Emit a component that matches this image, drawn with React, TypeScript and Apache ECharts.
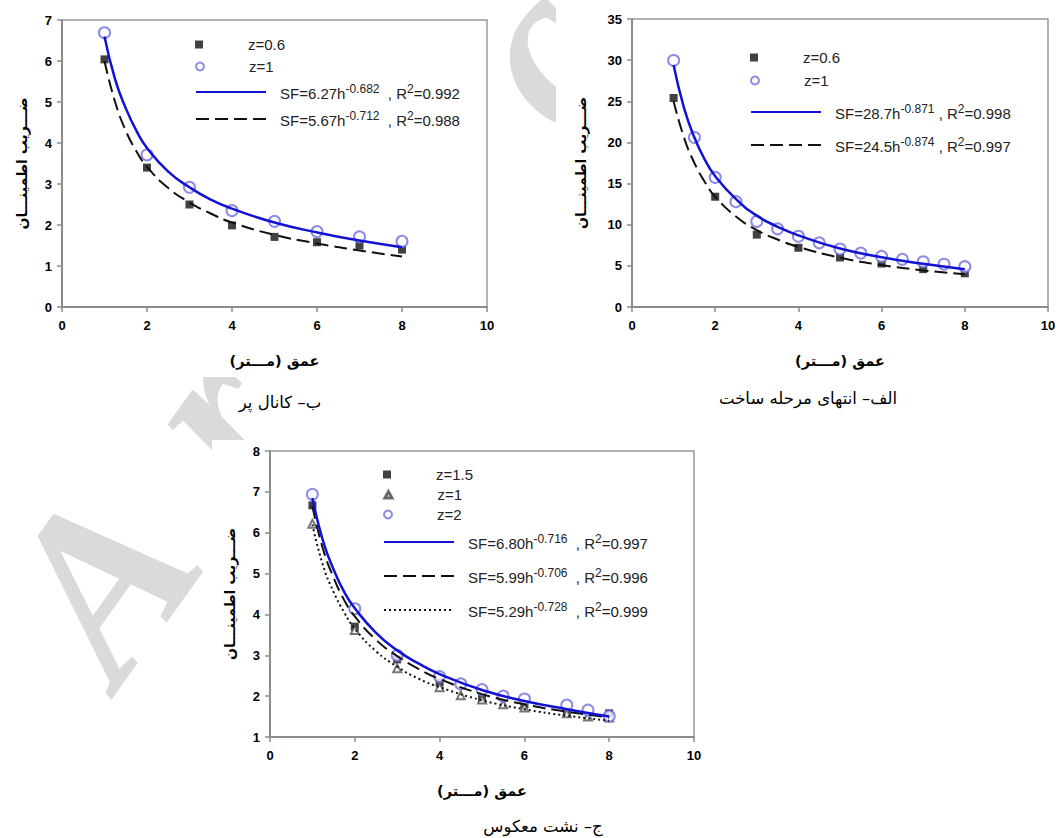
import React, { useEffect, useRef } from "react";
import * as echarts from "echarts";

// ---------- data ----------
// chart "ب– کانال پر"
const bDepth = [1, 2, 3, 4, 5, 6, 7, 8];
const bZ06 = [6.04, 3.4, 2.5, 1.99, 1.71, 1.58, 1.5, 1.4];
const bZ1 = [6.69, 3.71, 2.92, 2.35, 2.09, 1.84, 1.71, 1.6];
const fitDepth = [1, 1.25, 1.5, 1.75, 2, 2.5, 3, 3.5, 4, 5, 6, 7, 8];
const bFitZ1 = [6.6, 5.55, 4.85, 4.3, 3.88, 3.3, 2.92, 2.62, 2.4, 2.06, 1.82, 1.62, 1.46];
const bFitZ06 = [6.0, 5.0, 4.3, 3.8, 3.42, 2.9, 2.55, 2.28, 2.06, 1.76, 1.55, 1.38, 1.23];

// chart "الف– انتهای مرحله ساخت"
const aDepthZ06 = [1, 2, 3, 4, 5, 6, 7, 8];
const aZ06 = [25.4, 13.4, 8.8, 7.2, 6.02, 5.28, 4.6, 4.1];
const aDepthZ1 = [1, 1.5, 2, 2.5, 3, 3.5, 4, 4.5, 5, 5.5, 6, 6.5, 7, 7.5, 8];
const aZ1 = [29.96, 20.6, 15.75, 12.8, 10.4, 9.5, 8.6, 7.8, 7.05, 6.55, 6.15, 5.8, 5.5, 5.2, 4.9];
const aFitZ1 = [29.4, 24.2, 20.6, 17.9, 15.9, 13.1, 11.1, 9.75, 8.7, 7.1, 6.05, 5.25, 4.6];
const aFitZ06 = [25.0, 20.6, 17.5, 15.2, 13.4, 11.0, 9.35, 8.2, 7.3, 6.0, 5.1, 4.45, 3.98];

// chart "ج– نشت معکوس"
const cDepthZ15 = [1, 2, 3, 4, 5, 6, 7, 8];
const cZ15 = [6.67, 3.7, 2.9, 2.33, 1.95, 1.8, 1.62, 1.58];
const cDepthZ1 = [1, 2, 3, 4, 4.5, 5, 5.5, 6, 7, 7.5, 8];
const cZ1 = [6.22, 3.62, 2.68, 2.22, 2.02, 1.92, 1.8, 1.72, 1.58, 1.5, 1.48];
const cDepthZ2 = [1, 2, 3, 4, 4.5, 5, 5.5, 6, 7, 7.5, 8];
const cZ2 = [6.94, 4.14, 3.0, 2.48, 2.3, 2.16, 2.0, 1.93, 1.78, 1.66, 1.51];
const cFitZ2 = [6.85, 5.8, 5.1, 4.55, 4.15, 3.55, 3.12, 2.8, 2.54, 2.15, 1.88, 1.68, 1.5];
const cFitZ15 = [6.65, 5.6, 4.9, 4.35, 3.95, 3.38, 2.98, 2.67, 2.42, 2.05, 1.8, 1.62, 1.48];
const cFitZ1 = [6.2, 5.2, 4.55, 4.05, 3.65, 3.1, 2.72, 2.43, 2.22, 1.9, 1.68, 1.52, 1.4];

// texts
const xTitle = "عمق (مـــتر)";
const yTitle = "ضـــریب اطمینـــان";
const captions = ["ب– کانال پر", "الف– انتهای مرحله ساخت", "ج– نشت معکوس"];
const watermarkLetters = ["A", "r", "c"];

// legend labels: [main, exponent, middle, r2sup, tail]
const legendLabels: Record<string, any> = {
  b_z06: "z=0.6",
  b_z1: "z=1",
  b_f1: ["SF=6.27h", "-0.682", "  , R", "2", "=0.992"],
  b_f06: ["SF=5.67h", "-0.712", "  , R", "2", "=0.988"],
  a_z06: "z=0.6",
  a_z1: "z=1",
  a_f1: ["SF=28.7h", "-0.871", " , R", "2", "=0.998"],
  a_f06: ["SF=24.5h", "-0.874", " , R", "2", "=0.997"],
  c_z15: "z=1.5",
  c_z1: "z=1",
  c_z2: "z=2",
  c_f2: ["SF=6.80h", "-0.716", "  , R", "2", "=0.997"],
  c_f15: ["SF=5.99h", "-0.706", "  , R", "2", "=0.996"],
  c_f1: ["SF=5.29h", "-0.728", "  , R", "2", "=0.999"],
};
const legendRows = [
  ["b_z06", "b_z1", "b_f1", "b_f06"],
  ["a_z06", "a_z1", "a_f1", "a_f06"],
  ["c_z15", "c_z1", "c_z2", "c_f2", "c_f15", "c_f1"],
];

const BLUE = "#1212d4";
const CIRCLE = "#6f6fe0";
const BLACK = "#111111";
const TRI = "#555555";
const AXIS = "#8c8c8c";

const SQUARE_ICON = "path://M0,0L10,0L10,10L0,10Z";
const TRI_ICON = "path://M5,0L10,9L0,9Z M5,2.8L1.9,8L8.1,8Z";

function pairs(xs: number[], ys: number[]) {
  return xs.map((x, i) => [x, ys[i]]);
}

export default function App() {
  const ref = useRef<HTMLDivElement>(null);

  useEffect(() => {
    if (!ref.current) return;
    const chart = echarts.init(ref.current, undefined, { renderer: "svg" });

    const grids = [
      { left: 62, top: 20, width: 425, height: 287 },
      { left: 632, top: 19, width: 416, height: 288 },
      { left: 270, top: 451, width: 424, height: 286 },
    ];
    const yRanges = [
      { min: 0, max: 7, interval: 1 },
      { min: 0, max: 35, interval: 5 },
      { min: 1, max: 8, interval: 1 },
    ];

    const xAxes = grids.map((_, i) => ({
      type: "value",
      gridIndex: i,
      min: 0,
      max: 10,
      interval: 2,
      axisLine: { show: true, onZero: false, lineStyle: { color: AXIS, width: 2 } },
      axisTick: { show: true, length: 5, lineStyle: { color: AXIS, width: 1.5 } },
      axisLabel: {
        color: "#000",
        fontWeight: "bold",
        fontSize: 13,
        fontFamily: "Liberation Sans",
        margin: 12,
      },
      splitLine: { show: false },
      name: xTitle,
      nameLocation: "middle",
      nameGap: 46,
      nameTextStyle: { color: "#000", fontWeight: "bold", fontSize: 14.5, fontFamily: "DejaVu Sans" },
    }));

    const yAxes = grids.map((_, i) => ({
      type: "value",
      gridIndex: i,
      ...yRanges[i],
      axisLine: { show: true, onZero: false, lineStyle: { color: AXIS, width: 2 } },
      axisTick: { show: true, length: 5, lineStyle: { color: AXIS, width: 1.5 } },
      axisLabel: {
        color: "#000",
        fontWeight: "bold",
        fontSize: 13,
        fontFamily: "Liberation Sans",
        margin: 10,
      },
      splitLine: { show: false },
      name: yTitle,
      nameLocation: "middle",
      nameRotate: 90,
      nameGap: i === 1 ? 44 : 33,
      nameTextStyle: { color: "#000", fontWeight: "bold", fontSize: 14, fontFamily: "DejaVu Sans" },
    }));

    const sq = (name: string, gi: number, xs: number[], ys: number[]) => ({
      name,
      type: "scatter",
      xAxisIndex: gi,
      yAxisIndex: gi,
      symbol: "rect",
      symbolSize: 8,
      itemStyle: { color: BLACK },
      data: pairs(xs, ys),
      z: 3,
    });
    const circ = (name: string, gi: number, xs: number[], ys: number[]) => ({
      name,
      type: "scatter",
      xAxisIndex: gi,
      yAxisIndex: gi,
      symbol: "emptyCircle",
      symbolSize: 11,
      itemStyle: { color: CIRCLE, borderColor: CIRCLE, borderWidth: 1.3 },
      data: pairs(xs, ys),
      z: 3,
    });
    const tri = (name: string, gi: number, xs: number[], ys: number[]) => ({
      name,
      type: "scatter",
      xAxisIndex: gi,
      yAxisIndex: gi,
      symbol: "emptyTriangle",
      symbolSize: 8,
      itemStyle: { color: TRI, borderColor: TRI, borderWidth: 1 },
      data: pairs(xs, ys),
      z: 3,
    });
    const fit = (name: string, gi: number, ys: number[], color: string, type: any, width: number) => ({
      name,
      type: "line",
      xAxisIndex: gi,
      yAxisIndex: gi,
      symbol: "none",
      smooth: true,
      lineStyle: { color, type, width },
      itemStyle: { color },
      data: pairs(fitDepth, ys),
      z: 4,
    });

    const DASH = [13, 6];
    const series = [
      sq("b_z06", 0, bDepth, bZ06),
      circ("b_z1", 0, bDepth, bZ1),
      fit("b_f06", 0, bFitZ06, BLACK, DASH, 2),
      fit("b_f1", 0, bFitZ1, BLUE, "solid", 2.5),

      sq("a_z06", 1, aDepthZ06, aZ06),
      circ("a_z1", 1, aDepthZ1, aZ1),
      fit("a_f06", 1, aFitZ06, BLACK, DASH, 2),
      fit("a_f1", 1, aFitZ1, BLUE, "solid", 2.5),

      sq("c_z15", 2, cDepthZ15, cZ15),
      tri("c_z1", 2, cDepthZ1, cZ1),
      circ("c_z2", 2, cDepthZ2, cZ2),
      fit("c_f1", 2, cFitZ1, BLACK, [2, 3], 2),
      fit("c_f15", 2, cFitZ15, BLACK, DASH, 2),
      fit("c_f2", 2, cFitZ2, BLUE, "solid", 2.5),
    ];

    const formatter = (name: string) => {
      const l = legendLabels[name];
      if (typeof l === "string") return `{p| }{z|${l}}`;
      return `{p| }{t|${l[0]}}{s|${l[1]}}{t|${l[2]}}{s|${l[3]}}{t|${l[4]}}`;
    };
    const rich = {
      p: { width: 9 },
      z: { fontSize: 15, color: "#222", fontFamily: "Liberation Sans", lineHeight: 18 },
      t: {
        fontSize: 15,
        color: "#222",
        fontFamily: "Liberation Sans",
        lineHeight: 18,
        padding: [6, 0, 0, 0],
        verticalAlign: "bottom",
      },
      s: { fontSize: 12, color: "#222", fontFamily: "Liberation Sans", lineHeight: 14, verticalAlign: "top" },
    };
    const item = (name: string) => {
      if (name.endsWith("z06") || name.endsWith("z15")) return { name, icon: SQUARE_ICON };
      if (name === "c_z1") return { name, icon: TRI_ICON };
      if (name.indexOf("_f") > 0) return { name, itemStyle: { opacity: 0 } };
      return { name };
    };
    // row text centres (px from top) and left edge of the symbol column
    const rowCentres = [
      [46, 68, 95, 122],
      [59, 82, 115, 148],
      [476, 496, 516, 545, 579, 613],
    ];
    const legendLeft = [195, 750, 383];
    const legend: any[] = [];
    legendRows.forEach((rows, ci) => {
      rows.forEach((name, ri) => {
        const isFit = name.indexOf("_f") > 0;
        legend.push({
          orient: "vertical",
          itemWidth: 70,
          itemHeight: 8,
          padding: 0,
          formatter,
          selectedMode: false,
          left: legendLeft[ci],
          top: rowCentres[ci][ri] - (isFit ? 15 : 9),
          data: [item(name)],
          textStyle: { rich },
        });
      });
    });

    const captionPos = [
      [280, 402],
      [808, 398],
      [543, 826],
    ];
    // white backgrounds of the three chart pictures (they hide the watermark)
    const panels = [
      [0, 0, 503, 377],
      [556, 0, 504, 378],
      [212, 440, 512, 367],
    ];
    const watermarkPos = [
      [100, 580],
      [212, 412],
      [538, 52],
    ];

    chart.setOption({
      animation: false,
      backgroundColor: "#ffffff",
      grid: grids.map((g) => ({
        ...g,
        show: true,
        borderColor: "#9a9a9a",
        borderWidth: 1.5,
        backgroundColor: "transparent",
        containLabel: false,
      })),
      xAxis: xAxes,
      yAxis: yAxes,
      legend,
      series,
      graphic: [
        ...watermarkLetters.map((ch, i) => ({
          type: "text",
          x: watermarkPos[i][0],
          y: watermarkPos[i][1],
          rotation: 0.95,
          z: -10,
          silent: true,
          style: {
            text: ch,
            font: 'italic bold 235px "Liberation Serif"',
            fill: "#dadada",
            textAlign: "center",
            textVerticalAlign: "middle",
          },
        })),
        ...panels.map((p) => ({
          type: "rect",
          z: -5,
          silent: true,
          shape: { x: p[0], y: p[1], width: p[2], height: p[3] },
          style: { fill: "#ffffff" },
        })),
        ...captions.map((c, i) => ({
          type: "text",
          x: captionPos[i][0],
          y: captionPos[i][1],
          style: {
            text: c,
            fill: "#000",
            font: '16.5px "DejaVu Sans"',
            textAlign: "center",
            textVerticalAlign: "middle",
          },
        })),
      ],
    });

    return () => chart.dispose();
  }, []);

  return (
    <div
      ref={ref}
      style={{ position: "fixed", left: 0, top: 0, width: 1060, height: 838, background: "#fff" }}
    />
  );
}
